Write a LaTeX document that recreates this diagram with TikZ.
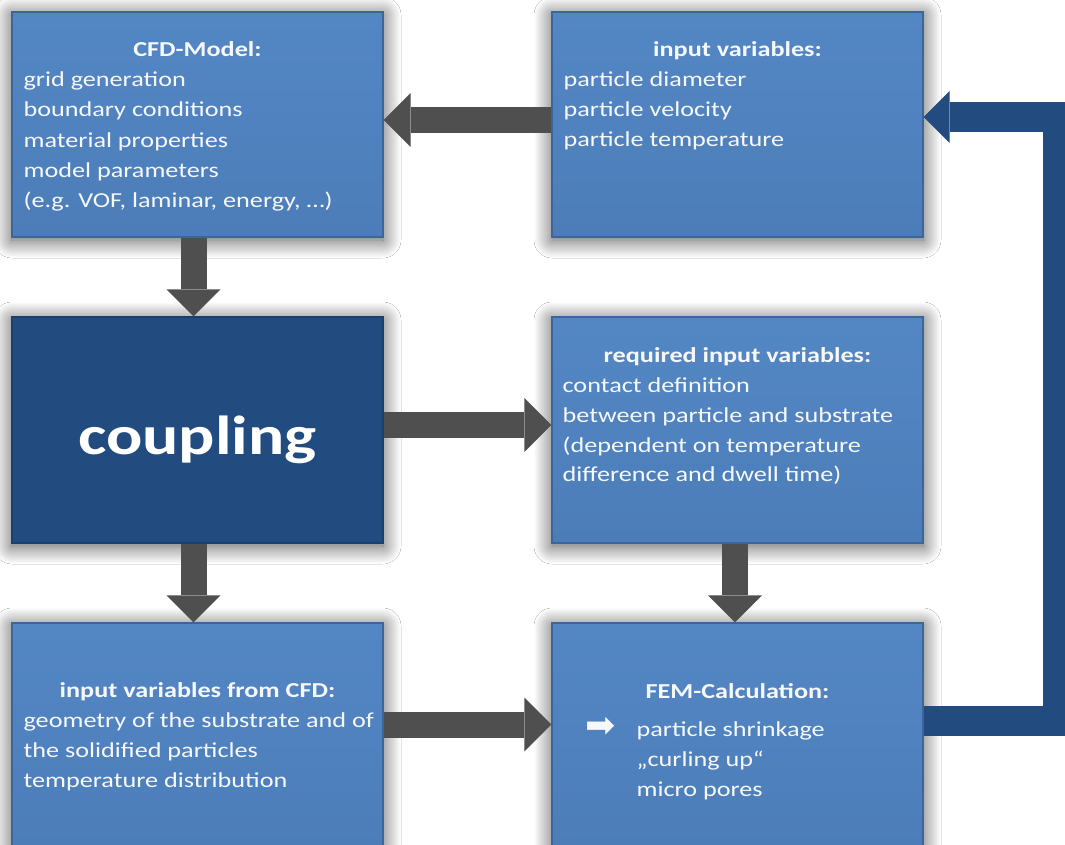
\documentclass[tikz,border=0pt]{standalone}
\usepackage{fontspec}
\setmainfont{Carlito}[FakeStretch=1.23]
\newfontfamily\symfont{DejaVu Sans}
\usetikzlibrary{arrows.meta,calc,shadows.blur}

\definecolor{boxtop}{HTML}{5387C4}
\definecolor{boxbot}{HTML}{4C7DB9}
\definecolor{boxedge}{HTML}{3A669B}
\definecolor{deepblue}{HTML}{224B80}
\definecolor{deepedge}{HTML}{1C406E}
\definecolor{arrowgray}{HTML}{4F4F4F}
\definecolor{paper}{HTML}{F6F8FB}

\tikzset{
  panel/.style={rectangle, minimum width=371pt, minimum height=225pt,
    inner sep=0pt, draw=boxedge, line width=1.2pt,
    top color=boxtop, bottom color=boxbot,
    blur shadow={shadow xshift=0pt, shadow yshift=-3pt,
      shadow blur radius=18pt, shadow blur steps=18, shadow opacity=70}},
  corepanel/.style={panel, draw=deepedge, top color=deepblue, bottom color=deepblue},
  titletext/.style={anchor=base, inner sep=0pt, text=paper,
    font=\fontsize{21.3}{25}\selectfont\bfseries},
  bodytext/.style={anchor=base west, inner sep=0pt, text=paper,
    font=\fontsize{21.3}{25}\selectfont},
  grayarrow/.style={draw=arrowgray, line width=26pt,
    -{Triangle[length=27pt, width=54pt, line width=0pt]}},
  bluelink/.style={draw=deepblue, line width=30pt, line join=miter,
    -{Triangle[length=26pt, width=52pt, line width=0pt]}}
}

% stack of body lines below a panel's top edge
\newcommand\panellines[5]{%
  \foreach \ln [count=\k from 0] in {#5}
    \node[bodytext] at ($(#1.north west)+(#2,#3+#4*\k)$) {\ln};}

\begin{document}
\begin{tikzpicture}[x=1pt, y=-1pt]
  \useasboundingbox[fill=white] (0,0) rectangle (1065,845);

  % panels
  \node[panel] (cfd)    at (197.5,124.5) {};
  \node[panel] (inp)    at (737.5,124.5) {};
  \node[corepanel, minimum height=226pt] (coup) at (197.5,430) {};
  \node[panel, minimum height=226pt] (req)  at (737.5,430) {};
  \node[panel] (cfdout) at (197.5,735.5) {};
  \node[panel] (fem)    at (737.5,735.5) {};

  % flow arrows
  \draw[grayarrow] ($(inp.west)+(0,-4.5)$) -- ($(cfd.east)+(0,-4.5)$);
  \draw[grayarrow] ($(cfd.south)+(-4,0)$) -- ($(coup.north)+(-4,0)$);
  \draw[grayarrow] ($(coup.east)+(0,-5)$) -- ($(req.west)+(0,-5)$);
  \draw[grayarrow] ($(coup.south)+(-4,0)$) -- ($(cfdout.north)+(-4,0)$);
  \draw[grayarrow] ($(req.south)+(-2.5,0)$) -- ($(fem.north)+(-2.5,0)$);
  \draw[grayarrow] ($(cfdout.east)+(0,-11)$) -- ($(fem.west)+(0,-11)$);

  % feedback loop from the FEM calculation back to the input variables
  \coordinate (loop) at (1058,117);
  \draw[bluelink] ($(fem.east)+(0,-14.5)$) -| (loop) -- ($(inp.east)+(0,-7.5)$);

  % CFD model
  \node[titletext] at ($(cfd.north)+(0,45)$) {CFD-Model:};
  \panellines{cfd}{12}{75.5}{30.1}{{grid generation}, {boundary conditions},
    {material properties}, {model parameters}, {(e.g. VOF, laminar, energy, …)}}

  % input variables
  \node[titletext] at ($(inp.north)+(0,45)$) {input variables:};
  \panellines{inp}{12}{75}{30}{{particle diameter}, {particle velocity},
    {particle temperature}}

  % coupling
  \node[anchor=base, inner sep=0pt, text=white,
    font=\fontsize{55}{60}\selectfont\bfseries] at ($(coup.north)+(0,138)$) {coupling};

  % required input variables
  \node[titletext] at ($(req.north)+(0,46)$) {required input variables:};
  \panellines{req}{11}{76}{29.8}{{contact definition},
    {between particle and substrate}, {(dependent on temperature},
    {difference and dwell time)}}

  % input variables from CFD
  \node[titletext] at ($(cfdout.north)+(0,75)$) {input variables from CFD:};
  \panellines{cfdout}{12}{105}{30}{{geometry of the substrate and of},
    {the solidified particles}, {temperature distribution}}

  % FEM calculation
  \node[inner sep=0pt, text=paper, font=\symfont\fontsize{36}{38}\selectfont]
    at ($(fem.north west)+(49,105)$) {➡};
  \node[titletext] at ($(fem.north)+(0,76)$) {FEM-Calculation:};
  \panellines{fem}{85}{114}{30}{{particle shrinkage}, {„curling up“}, {micro pores}}
\end{tikzpicture}
\end{document}
